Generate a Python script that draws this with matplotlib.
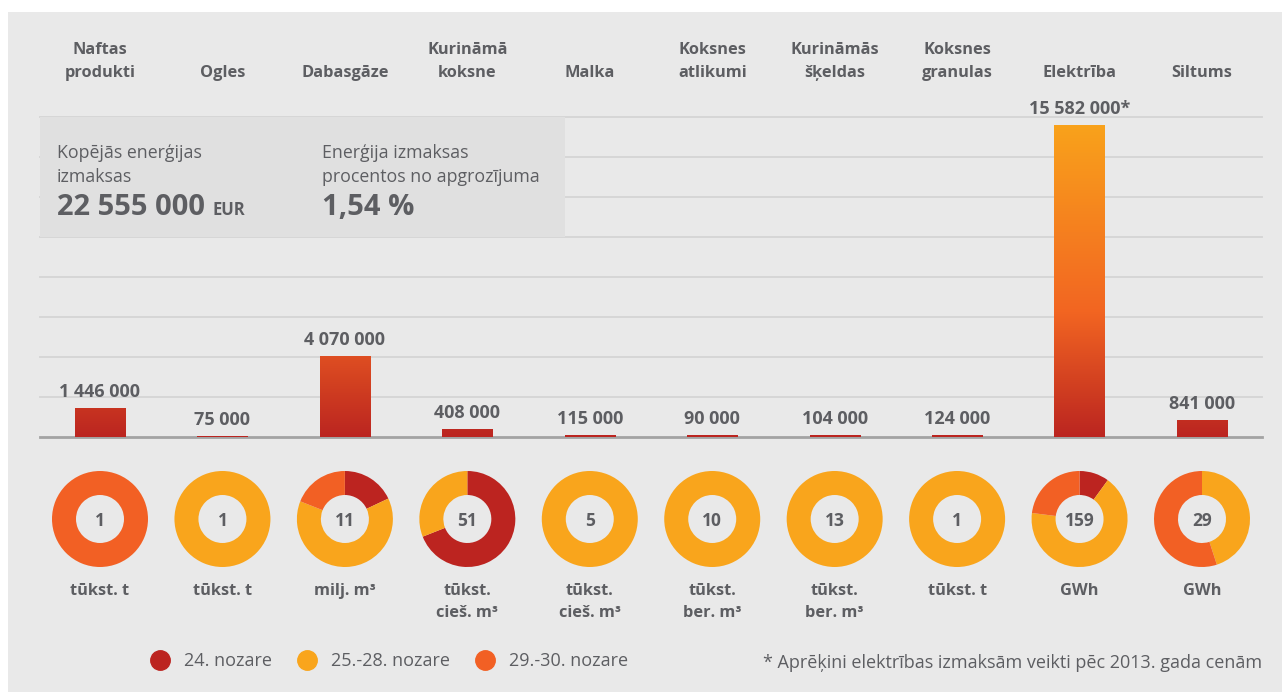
import matplotlib.pyplot as plt
import numpy as np
from matplotlib.colors import LinearSegmentedColormap
from matplotlib.patches import Rectangle
from matplotlib.lines import Line2D

plt.rcParams['font.family'] = ['Open Sans', 'DejaVu Sans']

W, H = 1282, 692

categories = ["Naftas\nprodukti", "Ogles", "Dabasgāze", "Kurināmā\nkoksne", "Malka",
              "Koksnes\natlikumi", "Kurināmās\nšķeldas", "Koksnes\ngranulas", "Elektrība", "Siltums"]
costs = [1446000, 75000, 4070000, 408000, 115000, 90000, 104000, 124000, 15582000, 841000]
amounts = ["1", "1", "11", "51", "5", "10", "13", "1", "159", "29"]
units = ["tūkst. t", "tūkst. t", "milj. m³", "tūkst.\ncieš. m³", "tūkst.\ncieš. m³",
         "tūkst.\nber. m³", "tūkst.\nber. m³", "tūkst. t", "GWh", "GWh"]
# share of consumption by sector group, %
share_24 = [0, 0, 18, 69, 0, 0, 0, 0, 10, 0]
share_25_28 = [0, 100, 63, 31, 100, 100, 100, 100, 67, 45]
share_29_30 = [100, 0, 19, 0, 0, 0, 0, 0, 23, 55]
legend_labels = ["24. nozare", "25.-28. nozare", "29.-30. nozare"]
sector_colors = ["#bc2420", "#f9a51c", "#f26024"]

total_cost = "22 555 000"
cost_share = "1,54 %"
footnote = "* Aprēķini elektrības izmaksām veikti pēc 2013. gada cenām"

TEXT = "#5d5e62"
BG = "#e9e9e9"
BOX = "#e0e0e0"


def fx(x):
    return x / W


def fy(y):
    return 1 - y / H


fig = plt.figure(figsize=(W / 100, H / 100), dpi=100)
fig.patch.set_facecolor("white")

bg = fig.add_axes([0, 0, 1, 1])
bg.set_xlim(0, W)
bg.set_ylim(H, 0)
bg.axis("off")
bg.add_patch(Rectangle((8, 12), W - 8, H - 12, color=BG, lw=0))

# bar chart
ax = fig.add_axes([fx(40), fy(437), 1222 / W, 320 / H])
ax.set_facecolor("none")
x = np.arange(len(costs))
XLIM = (-0.49, 9.49)
for s in ax.spines.values():
    s.set_visible(False)
ax.set_xticks([])
ax.set_yticks(np.arange(2e6, 16.1e6, 2e6))
ax.tick_params(left=False, labelleft=False)
ax.yaxis.grid(True, color="#d4d4d4", lw=1.3)
ax.set_axisbelow(True)
for gl in ax.get_ygridlines():
    gl.set_clip_on(False)
ax.axhline(0, color="#a3a3a3", lw=2, zorder=1, clip_on=False)

ax.add_patch(Rectangle((0, 0.625), (565 - 40) / 1222, 0.375, transform=ax.transAxes,
                       color=BOX, lw=0, zorder=0.8))

cmap = LinearSegmentedColormap.from_list("bar", [(0, "#bb2520"), (0.4, "#f26522"), (1, "#f9a21b")])
bars = ax.bar(x, costs, width=0.41, color="none", zorder=2)
grad = np.linspace(0, 1, 256).reshape(-1, 1)
for b in bars:
    im = ax.imshow(grad, cmap=cmap, aspect="auto", origin="lower", zorder=2,
                   extent=(b.get_x(), b.get_x() + b.get_width(), 0, max(costs)))
    im.set_clip_path(b)
ax.set_xlim(*XLIM)
ax.set_ylim(0, 16e6)

cost_labels = [f"{v:,}".replace(",", " ") for v in costs]
cost_labels[8] += "*"
ax.bar_label(bars, labels=cost_labels, padding=5, fontsize=13, fontweight="bold", color=TEXT)

for i, name in enumerate(categories):
    ax.annotate(name, xy=(i, 1), xycoords=("data", "axes fraction"), xytext=(0, 40),
                textcoords="offset pixels", ha="center", va="baseline", fontsize=11.8,
                fontweight="bold", color=TEXT, linespacing=1.55)

# info box text
fig.text(fx(57), fy(182), "Kopējās enerģijas\nizmaksas", fontsize=12.8, color=TEXT,
         va="baseline", linespacing=1.4)
big = fig.text(fx(57), fy(215), total_cost, fontsize=21, fontweight="bold", color=TEXT,
               va="baseline")
fig.text(fx(322), fy(182), "Enerģija izmaksas\nprocentos no apgrozījuma", fontsize=12.8,
         color=TEXT, va="baseline", linespacing=1.4)
fig.text(fx(322), fy(215), cost_share, fontsize=21, fontweight="bold", color=TEXT,
         va="baseline")
fig.canvas.draw()
bb = big.get_window_extent()
fig.text(fx(bb.x1 + 7), fy(215), "EUR", fontsize=12, fontweight="bold", color=TEXT,
         va="baseline")

# donuts
for i in range(len(costs)):
    cx = 40 + (i - XLIM[0]) / (XLIM[1] - XLIM[0]) * 1222
    cy = 519
    r = 48
    axd = fig.add_axes([fx(cx - r), fy(cy + r), 2 * r / W, 2 * r / H])
    vals = [share_24[i], share_25_28[i], share_29_30[i]]
    keep = [k for k in range(3) if vals[k] > 0]
    axd.pie([vals[k] for k in keep], colors=[sector_colors[k] for k in keep], startangle=90,
            counterclock=False, wedgeprops=dict(width=0.5, lw=0))
    axd.set_xlim(-1, 1)
    axd.set_ylim(-1, 1)
    axd.text(0, 0, amounts[i], ha="center", va="center_baseline", fontsize=12.5,
             fontweight="bold", color=TEXT)
    fig.text(fx(cx), fy(583), units[i], ha="center", va="top", fontsize=11.8,
             fontweight="bold", color=TEXT, linespacing=1.5)

handles = [Line2D([], [], marker="o", ls="", color=c, markersize=14) for c in sector_colors]
fig.legend(handles, legend_labels, loc="center left", bbox_to_anchor=(fx(142), fy(661)),
           ncol=3, frameon=False, fontsize=13, handletextpad=0.83, columnspacing=1.44,
           handlelength=1.0, labelcolor=TEXT, borderpad=0)

fig.text(fx(1262), fy(668), footnote, ha="right", va="baseline", fontsize=13, color=TEXT)

fig.savefig("out.png", dpi=100, facecolor=fig.get_facecolor())
